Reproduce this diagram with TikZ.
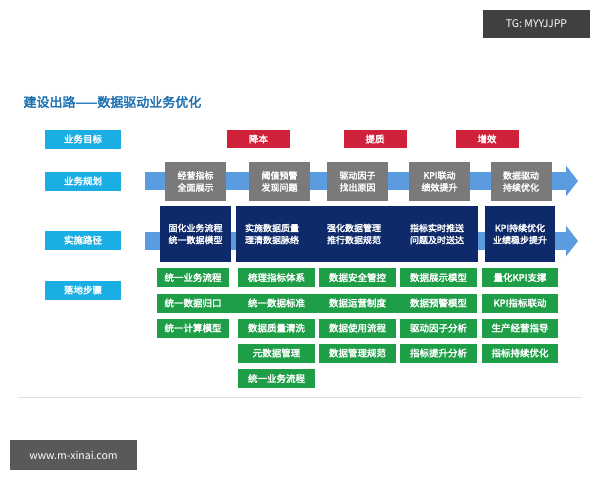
\documentclass[tikz,border=0pt]{standalone}
\usepackage{fontspec}
\setmainfont{Noto Sans CJK SC}[AutoFakeBold=2.5]
\usetikzlibrary{arrows.meta}
\definecolor{lblue}{HTML}{1AAEE5}
\definecolor{red1}{HTML}{D0213A}
\definecolor{grey1}{HTML}{7A7A7A}
\definecolor{navy}{HTML}{0E2A6A}
\definecolor{green1}{HTML}{1F9E48}
\definecolor{band}{HTML}{5B9BE0}
\definecolor{title}{HTML}{1A6FB0}
\begin{document}
\begin{tikzpicture}[x=1pt,y=-1pt,
  lab/.style={fill=lblue,text=white,font=\bfseries\fontsize{9.5}{10}\selectfont,minimum width=76pt,minimum height=19pt,inner sep=0pt},
  goal/.style={fill=red1,text=white,font=\bfseries\fontsize{9.5}{10}\selectfont,minimum width=63pt,minimum height=18pt,inner sep=0pt},
  plan/.style={fill=grey1,text=white,font=\bfseries\fontsize{9}{12}\selectfont,align=center,minimum width=61pt,minimum height=39pt,inner sep=0pt},
  path/.style={fill=navy,text=white,font=\bfseries\fontsize{9}{12}\selectfont,align=center,minimum height=56pt,inner sep=0pt},
  ptxt/.style={text=white,font=\bfseries\fontsize{9}{12}\selectfont,align=center},
  gtxt/.style={text=white,font=\bfseries\fontsize{9.5}{10}\selectfont},
  gbox/.style={fill=green1,text=white,font=\bfseries\fontsize{9.5}{10}\selectfont,minimum height=19pt,inner sep=0pt},
  bandarrow/.style={band,line width=18pt,-{Triangle[length=12pt,width=30pt]}}]
\useasboundingbox (0,0) rectangle (600,480);
\fill[white] (0,0) rectangle (600,480);
% watermarks
\node[fill=black!75,text=white,font=\fontsize{10.5}{11}\selectfont,minimum width=107pt,minimum height=28pt] (tg) at (536.5,24) {TG: MYYJJPP};
\node[fill=black!65,text=white,font=\fontsize{10.5}{11}\selectfont,minimum width=127pt,minimum height=30pt] (www) at (73.5,455) {www.m-xinai.com};
% title
\node[anchor=west,text=title,font=\bfseries\fontsize{13}{14}\selectfont] (ttl) at (20,102) {建设出路——数据驱动业务优化};
% labels
\node[lab] (l1) at (83,139) {业务目标};
\node[lab] (l2) at (83,181) {业务规划};
\node[lab] (l3) at (83,240) {实施路径};
\node[lab] (l4) at (83,290) {落地步骤};
% goals
\node[goal] (g1) at (258.5,139) {降本};
\node[goal] (g2) at (375,139) {提质};
\node[goal] (g3) at (487,139) {增效};
% bands
\coordinate (a1) at (145,181); \coordinate (a2) at (578,181);
\coordinate (b1) at (145,241); \coordinate (b2) at (578,241);
\draw[bandarrow] (a1) -- (a2);
\draw[bandarrow] (b1) -- (b2);
% plan boxes
\node[plan] (p1) at (195.5,181.5) {经营指标\\全面展示};
\node[plan] (p2) at (279.5,181.5) {阈值预警\\发现问题};
\node[plan] (p3) at (357.5,181.5) {驱动因子\\找出原因};
\node[plan] (p4) at (439.5,181.5) {KPI联动\\绩效提升};
\node[plan] (p5) at (521,181.5) {数据驱动\\持续优化};
% path boxes
\node[path,minimum width=71pt] (q1) at (195.5,234) {固化业务流程\\统一数据模型};
\node[path,minimum width=242pt] (q2) at (357,234) {};
\node[path,minimum width=70pt] (q3) at (520,234) {KPI持续优化\\业绩稳步提升};
\node[ptxt] (q2a) at (272,234) {实施数据质量\\理清数据脉络};
\node[ptxt] (q2b) at (354,234) {强化数据管理\\推行数据规范};
\node[ptxt] (q2c) at (437,234) {指标实时推送\\问题及时送达};
% green
\node[gbox,minimum width=72pt] (s11) at (193,277.5) {统一业务流程};
\node[gbox,minimum width=77pt] (s12) at (276.5,277.5) {梳理指标体系};
\node[gbox,minimum width=77pt] (s13) at (357.5,277.5) {数据安全管控};
\node[gbox,minimum width=77pt] (s14) at (438.5,277.5) {数据展示模型};
\node[gbox,minimum width=76pt] (s15) at (520,277.5) {量化KPI支撑};
\node[gbox,minimum width=320pt] (s2) at (317,303) {};
\node[gtxt] (s21) at (193,303) {统一数据归口};
\node[gtxt] (s22) at (276.5,303) {统一数据标准};
\node[gtxt] (s23) at (357.5,303) {数据运营制度};
\node[gtxt] (s24) at (438.5,303) {数据预警模型};
\node[gbox,minimum width=76pt] (s25) at (520,303) {KPI指标联动};
\node[gbox,minimum width=72pt] (s31) at (193,328) {统一计算模型};
\node[gbox,minimum width=77pt] (s32) at (276.5,328) {数据质量清洗};
\node[gbox,minimum width=77pt] (s33) at (357.5,328) {数据使用流程};
\node[gbox,minimum width=77pt] (s34) at (438.5,328) {驱动因子分析};
\node[gbox,minimum width=76pt] (s35) at (520,328) {生产经营指导};
\node[gbox,minimum width=77pt] (s42) at (276.5,353) {元数据管理};
\node[gbox,minimum width=77pt] (s43) at (357.5,353) {数据管理规范};
\node[gbox,minimum width=77pt] (s44) at (438.5,353) {指标提升分析};
\node[gbox,minimum width=76pt] (s45) at (520,353) {指标持续优化};
\node[gbox,minimum width=77pt] (s52) at (276.5,378.5) {统一业务流程};
% rule
\coordinate (r1) at (18,397); \coordinate (r2) at (582,397);
\draw[black!12,line width=1pt] (r1) -- (r2);
\end{tikzpicture}
\end{document}
